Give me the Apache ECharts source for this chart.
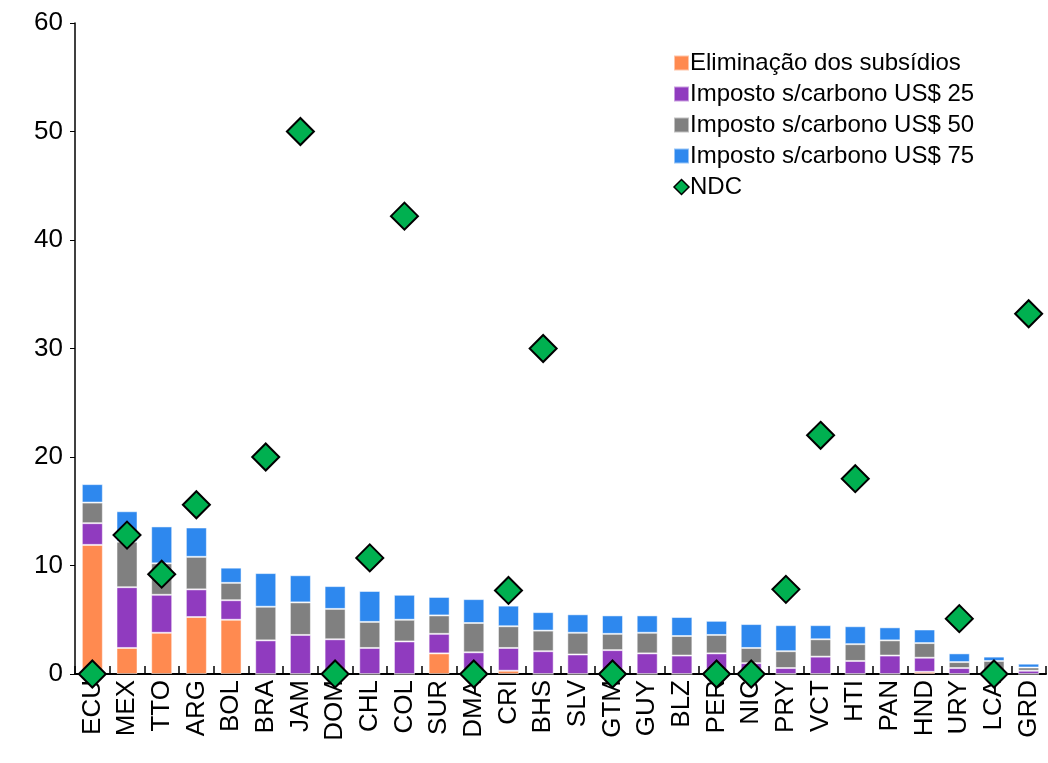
<!DOCTYPE html>
<html>
<head>
<meta charset="utf-8">
<script src="https://cdn.jsdelivr.net/npm/echarts@6/dist/echarts.min.js"></script>
<style>html,body{margin:0;padding:0;background:#fff}#chart{width:1048px;height:763px}</style>
</head>
<body>
<div id="chart"></div>
<script>
const categories = ["ECU","MEX","TTO","ARG","BOL","BRA","JAM","DOM","CHL","COL","SUR","DMA","CRI","BHS","SLV","GTM","GUY","BLZ","PER","NIC","PRY","VCT","HTI","PAN","HND","URY","LCA","GRD"];
const subsidios = [11.9,2.4,3.8,5.25,5.0,0,0,0,0,0,1.9,0,0.3,0,0,0.35,0,0,0,0,0,0,0,0,0.2,0,0,0];
const carbono25 = [2.0,5.6,3.5,2.55,1.8,3.1,3.6,3.2,2.4,3.0,1.8,2.0,2.1,2.1,1.8,1.85,1.9,1.7,1.9,1.0,0.55,1.6,1.2,1.7,1.3,0.55,0.3,0.3];
const carbono50 = [1.9,4.2,2.9,3.0,1.6,3.1,3.0,2.8,2.4,2.0,1.7,2.7,2.0,1.9,2.0,1.5,1.9,1.8,1.7,1.4,1.55,1.6,1.55,1.4,1.35,0.55,0.9,0.3];
const carbono75 = [1.7,2.8,3.4,2.7,1.4,3.1,2.5,2.1,2.85,2.3,1.7,2.2,1.9,1.7,1.7,1.7,1.6,1.75,1.3,2.2,2.4,1.3,1.65,1.2,1.25,0.8,0.4,0.35];
const ndc = [0,12.8,9.2,15.6,null,20,50,0,10.7,42.2,null,0,7.7,30,null,0,null,null,0,0,7.8,22,18,null,null,5.1,0,33.2];

const chart = echarts.init(document.getElementById("chart"));
const barBase = { type: "bar", stack: "total", barWidth: 21, itemStyle: { borderColor: "rgba(255,255,255,0.5)", borderWidth: 1 } };
chart.setOption({
  animation: false,
  textStyle: { fontFamily: "Liberation Sans, Arial, sans-serif" },
  grid: { left: 75, right: 2, top: 23, bottom: 89 },
  legend: {
    orient: "vertical", left: 668, top: 46, itemGap: 7, itemWidth: 15, itemHeight: 15,
    textStyle: { fontSize: 24, color: "#000", padding: [0, 0, 0, -4] },
    data: [
      { name: "Eliminação dos subsídios", icon: "rect" },
      { name: "Imposto s/carbono US$ 25", icon: "rect" },
      { name: "Imposto s/carbono US$ 50", icon: "rect" },
      { name: "Imposto s/carbono US$ 75", icon: "rect" },
      { name: "NDC", icon: "diamond", itemStyle: { borderColor: "#000", borderWidth: 1.5 } }
    ]
  },
  xAxis: {
    type: "category", data: categories,
    axisLine: { lineStyle: { color: "#000", width: 2 } },
    axisTick: { show: true, inside: true, length: 8, lineStyle: { color: "#000", width: 1.5 } },
    axisLabel: { rotate: 90, fontSize: 26, color: "#000", margin: 6 }
  },
  yAxis: {
    type: "value", min: 0, max: 60, interval: 10,
    axisLine: { show: true, lineStyle: { color: "#000", width: 1.5 } },
    axisTick: { show: true, length: 5, lineStyle: { color: "#000" } },
    splitLine: { show: false },
    axisLabel: { fontSize: 26, color: "#000", margin: 12 }
  },
  series: [
    Object.assign({}, barBase, { name: "Eliminação dos subsídios", data: subsidios, color: "#FF8A50" }),
    Object.assign({}, barBase, { name: "Imposto s/carbono US$ 25", data: carbono25, color: "#903BBF" }),
    Object.assign({}, barBase, { name: "Imposto s/carbono US$ 50", data: carbono50, color: "#808080" }),
    Object.assign({}, barBase, { name: "Imposto s/carbono US$ 75", data: carbono75, color: "#2E88EE" }),
    {
      name: "NDC", type: "scatter", data: ndc, symbol: "diamond", symbolSize: 27, z: 5,
      color: "#00B050", itemStyle: { borderColor: "#000", borderWidth: 2, opacity: 1 }
    }
  ]
});
</script>
</body>
</html>
